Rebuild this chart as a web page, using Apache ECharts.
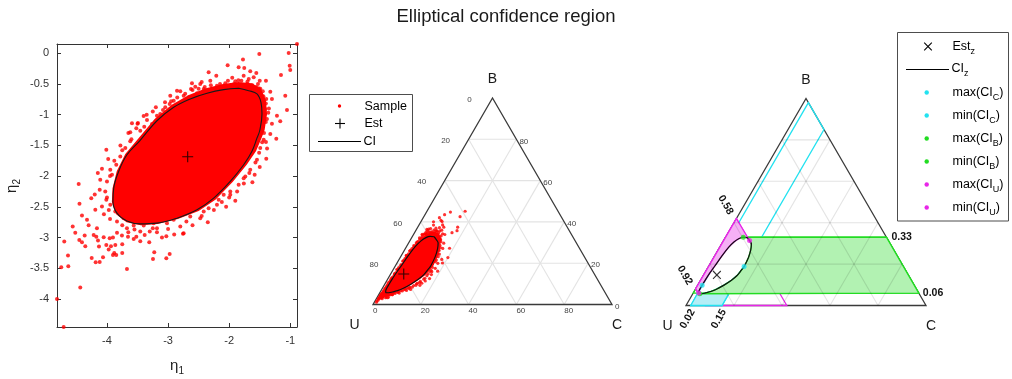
<!DOCTYPE html>
<html>
<head>
<meta charset="utf-8">
<title>Elliptical confidence region</title>
<script src="https://cdn.jsdelivr.net/npm/echarts@6.0.0/dist/echarts.min.js"></script>
<style>
html,body{margin:0;padding:0;background:#fff;}
#chart{width:1012px;height:379px;}
</style>
</head>
<body>
<div id="chart"></div>
<script>
// ---------------- data ----------------
const chartTitle = 'Elliptical confidence region';
const eta1Ticks = [-4, -3, -2, -1];
const eta2Ticks = [0, -0.5, -1, -1.5, -2, -2.5, -3, -3.5, -4];
const eta1Limits = [-4.818, -0.89];
const eta2Limits = [-4.456, 0.15];
const ternTicks = [0, 20, 40, 60, 80];

// point estimate (eta1, eta2)
const estimate = [-2.679, -1.685];

// confidence ellipse outline (eta1, eta2)
const ciOutline = [
  [-1.845,-0.570],[-2.090,-0.593],[-2.363,-0.652],[-2.637,-0.745],[-2.908,-0.880],[-3.182,-1.099],
  [-3.460,-1.421],[-3.673,-1.653],[-3.809,-1.923],[-3.890,-2.196],[-3.902,-2.412],[-3.836,-2.603],
  [-3.673,-2.729],[-3.455,-2.778],[-3.182,-2.766],[-2.854,-2.685],[-2.527,-2.549],[-2.254,-2.359],
  [-1.982,-2.086],[-1.763,-1.816],[-1.627,-1.597],[-1.545,-1.381],[-1.501,-1.262],[-1.463,-0.989],
  [-1.480,-0.799],[-1.545,-0.663],[-1.680,-0.610]
];

// outline of the saturated centre of the sample cloud (eta1, eta2)
const coreOutline = [
  [-1.85,-0.47],[-2.10,-0.50],[-2.38,-0.57],[-2.66,-0.68],[-2.94,-0.84],[-3.22,-1.07],[-3.48,-1.38],
  [-3.70,-1.64],[-3.84,-1.92],[-3.91,-2.20],[-3.92,-2.42],[-3.85,-2.62],[-3.68,-2.75],[-3.45,-2.80],
  [-3.17,-2.78],[-2.84,-2.70],[-2.50,-2.57],[-2.22,-2.38],[-1.94,-2.09],[-1.71,-1.81],[-1.56,-1.59],
  [-1.47,-1.38],[-1.42,-1.25],[-1.38,-0.99],[-1.40,-0.76],[-1.48,-0.58],[-1.63,-0.49]
];

// scattered sample draws (eta1, eta2)
const sampleFar = [
  [-1.026,0.005],[-1.010,-0.202],[-1.000,-0.272],[-1.507,-0.011],[-2.025,-0.196],[-1.774,-0.104],
  [-1.845,-0.228],[-1.753,-0.240],[-1.655,-0.293],[-1.556,-0.321],[-1.763,-0.365],[-1.599,-0.391],
  [-1.398,-0.447],[-1.152,-0.354],[-1.082,-0.691],[-1.327,-0.626],[-1.300,-0.745],[-1.393,-0.745],
  [-1.218,-1.017],[-1.054,-0.924],[-1.164,-1.108],[-1.327,-1.315],[-1.529,-0.500],[-1.517,-0.571],
  [-1.900,-0.456],[-1.982,-0.528],[-2.336,-0.310],[-2.211,-0.365],[-2.309,-0.447],[-2.473,-0.500],
  [-2.609,-0.489],[-2.625,-0.582],[-2.417,-0.582],[-2.745,-0.691],[-2.964,-0.691],[-2.974,-0.826],
  [-3.083,-0.924],[-3.182,-1.017],[-3.345,-1.087],[-3.493,-1.136],[-3.591,-1.141],[-3.390,-1.196],
  [-3.455,-1.262],[-3.619,-1.288],
  [-4.011,-1.571],[-4.082,-1.881],[-3.946,-1.897],[-4.463,-2.130],[-4.110,-2.060],[-4.257,-2.359],
  [-4.409,-2.641],[-4.561,-2.820],[-4.327,-2.712],[-4.191,-2.549],[-4.119,-2.223],[-4.011,-2.386],
  [-4.164,-2.848],[-1.393,-1.718],[-1.229,-1.392],[-1.398,-1.446],[-1.583,-1.979],[-1.736,-2.005],
  [-1.982,-2.305],[-2.090,-2.305],[-2.172,-2.386],[-2.336,-2.522],[-2.473,-2.685],[-2.745,-2.929],
  [-3.018,-2.766],[-3.182,-2.848],
  [-4.699,-3.064],[-4.748,-3.483],[-4.633,-3.467],[-4.638,-3.293],[-4.519,-2.924],[-4.453,-3.038],
  [-4.409,-3.076],[-4.355,-3.141],[-4.365,-2.967],[-4.218,-2.957],[-4.175,-2.989],[-4.147,-3.048],
  [-4.131,-3.146],[-4.250,-3.332],[-4.185,-3.402],[-4.119,-3.397],[-4.065,-3.320],[-4.054,-2.994],
  [-4.011,-3.120],[-3.972,-3.195],[-3.956,-3.011],[-3.935,-3.141],[-3.902,-2.999],[-3.864,-3.120],
  [-3.902,-3.283],[-3.848,-3.283],[-3.881,-3.250],[-3.750,-3.108],[-3.750,-3.250],[-3.755,-2.967],
  [-3.656,-2.989],[-3.563,-3.022],[-3.520,-2.989],[-3.455,-3.060],[-3.383,-2.957],[-3.308,-3.076],
  [-3.673,-3.511],[-4.437,-3.814],[-3.247,-3.348],[-3.226,-3.239],[-3.029,-2.978],[-3.029,-3.337],
  [-2.974,-3.267],[-2.756,-2.940],[-4.818,-4.000],[-4.709,-4.456],[-0.890,0.150]
];
const sampleHalo = [
  [-2.908,-0.773],[-2.789,-0.826],[-2.663,-0.717],[-2.527,-0.652],[-2.375,-0.663],[-2.254,-0.609],
  [-2.118,-0.582],[-2.200,-0.528],[-2.064,-0.489],[-1.872,-0.544],[-1.709,-0.500],[-1.627,-0.582],
  [-1.545,-0.663],[-1.435,-0.799],[-1.409,-0.908],[-1.382,-1.071],[-1.463,-1.206],[-3.128,-0.989],
  [-3.046,-0.880],[-3.263,-1.152],[-2.854,-0.609],[-2.555,-0.544],
  [-4.000,-2.086],[-3.918,-1.979],[-3.848,-1.816],[-3.782,-1.679],[-3.700,-1.544],[-3.619,-1.434],
  [-4.028,-2.249],[-3.946,-2.468],[-3.864,-2.575],[-3.727,-2.685],[-3.563,-2.804],[-3.399,-2.804],
  [-3.236,-2.766],[-2.908,-2.712],[-2.637,-2.657],[-2.417,-2.575],[-2.200,-2.468],[-1.982,-2.249],
  [-1.845,-2.142],[-1.763,-2.033],[-1.655,-1.897],[-1.545,-1.734],[-1.491,-1.544],[-1.435,-1.408],
  [-3.673,-2.848],[-3.455,-2.901],[-3.836,-2.738],[-4.082,-2.494],[-3.836,-2.924],[-3.651,-2.913],
  [-3.182,-2.913],
  [-3.40,-1.02],[-3.25,-0.95],[-3.52,-1.22],[-3.60,-1.40],[-3.75,-1.58],[-2.80,-0.62],[-2.45,-0.47],
  [-2.30,-0.52],[-1.95,-0.40],[-1.80,-0.45],[-1.68,-0.42],[-1.50,-0.45],[-1.45,-0.62],[-1.35,-0.90],
  [-1.30,-1.15],[-1.38,-1.55],[-1.50,-1.85],[-1.62,-2.10],[-1.90,-2.40],[-2.05,-2.50],[-2.35,-2.75],
  [-2.60,-2.80],[-2.90,-2.95],[-3.10,-3.00],[-3.30,-2.90],[-4.05,-2.62],[-4.20,-2.30],[-4.15,-1.95],
  [-3.98,-1.72],[-4.30,-2.80],[-4.45,-2.45],
  [-2.95,-0.78],[-2.85,-0.72],[-2.72,-0.66],[-2.60,-0.60],[-2.50,-0.58],[-2.40,-0.55],[-2.28,-0.58],
  [-2.15,-0.50],[-2.02,-0.45],[-1.92,-0.50],[-1.85,-0.44],[-1.78,-0.52],[-1.70,-0.46],[-1.62,-0.52],
  [-1.56,-0.55],[-1.49,-0.58],[-1.44,-0.70],[-1.40,-0.82],[-1.36,-0.97],[-1.40,-1.12],[-1.43,-1.30],
  [-1.46,-1.45],[-1.51,-1.62],[-1.57,-1.78],[-1.67,-1.95],[-1.76,-2.12],[-1.87,-2.25],[-2.00,-2.35],
  [-2.12,-2.42],[-2.25,-2.55],[-2.45,-2.65],[-2.70,-2.74],[-2.80,-2.82],[-3.00,-2.86],[-3.25,-2.85],
  [-3.55,-2.87],[-3.75,-2.80],[-3.95,-2.70],[-3.97,-2.55],[-4.00,-2.35],[-3.95,-2.00],[-3.88,-1.75],
  [-3.78,-1.50],[-3.65,-1.30],[-3.50,-1.15],[-3.35,-1.00],[-3.20,-0.88],[-3.05,-0.80]
];

// component-wise interval limits of the confidence region
const ciC = [0.02, 0.15];
const ciB = [0.06, 0.33];
const ciU = [0.58, 0.92];

// ---------------- helpers ----------------
const FONT = '"Liberation Sans", Arial, Helvetica, sans-serif';
const RED = '#ff0000';
const EDGE = '#3a3a3a';
const CYAN = '#22e2f0', GREEN = '#22dc22', MAGENTA = '#e826e8';
const CYAN_F = '#b4eef6', GREEN_F = '#b2f2b2', MAGENTA_F = '#f5b0f5';
const SQ3 = Math.sqrt(3) / 2;

// ternary (U,B,C) -> plane; U at origin, C at (1,0), B at apex
const tern = (u, b, c) => { const s = u + b + c; return [(c + b / 2) / s, b * SQ3 / s]; };
// inverse additive log-ratio: eta1 = ln(C/U), eta2 = ln(B/U)
const fromEta = (e) => { const a = Math.exp(e[0]), b = Math.exp(e[1]), d = 1 + a + b; return { u: 1 / d, b: b / d, c: a / d }; };
const compXY = (p) => tern(p.u, p.b, p.c);
const closeRing = (a) => a.concat([a[0]]);

const ring = ciOutline.map(fromEta);
const ringXY = ring.map(compXY);
function extremeIdx(key, sign) {
  let best = 0;
  ring.forEach((p, i) => { if (sign * p[key] > sign * ring[best][key]) best = i; });
  return best;
}
const iMaxC = extremeIdx('c', 1), iMinC = extremeIdx('c', -1);
const iMaxB = extremeIdx('b', 1), iMinB = extremeIdx('b', -1);
const iMaxU = extremeIdx('u', 1), iMinU = extremeIdx('u', -1);
// walk the ellipse from i to j along the side that passes k
function arcVia(i, j, k) {
  const n = ring.length, fwd = []; let hit = false;
  for (let t = i; ; t = (t + 1) % n) { fwd.push(t); if (t === k) hit = true; if (t === j) break; }
  if (hit) return fwd;
  const bwd = [];
  for (let t = i; ; t = (t - 1 + n) % n) { bwd.push(t); if (t === j) break; }
  return bwd;
}

const mctx = document.createElement('canvas').getContext('2d');
function textW(s, size, weight) { mctx.font = (weight || 'normal') + ' ' + size + 'px ' + FONT; return mctx.measureText(s).width; }
// text with subscripts, built from pieces [text, isSub]
function subText(parts, o) {
  const ms = o.size || 12.5, ss = o.subSize || 9, dy = o.subDy || 5;
  let total = 0;
  const ws = parts.map(([t, s]) => { const w = textW(t, s ? ss : ms); total += w; return w; });
  let cx = o.align === 'center' ? -total / 2 : 0;
  const children = parts.map(([t, s], i) => {
    const el = { type: 'text', x: cx, y: s ? dy : 0,
      style: { text: t, fontSize: s ? ss : ms, fontFamily: FONT, fill: o.color || '#000', align: 'left', verticalAlign: 'middle' } };
    cx += ws[i];
    return el;
  });
  return { type: 'group', x: o.x, y: o.y, rotation: o.rotation || 0, silent: true, children };
}
const seg = (a, b, stroke, w) => ({ type: 'line', shape: { x1: a[0], y1: a[1], x2: b[0], y2: b[1] }, style: { stroke, lineWidth: w } });
const poly = (pts, style) => ({ type: 'polygon', shape: { points: pts }, style });
const txt = (x, y, text, st, extra) => Object.assign({ type: 'text', x, y,
  style: Object.assign({ text, fontFamily: FONT, fill: '#222', align: 'center', verticalAlign: 'middle' }, st) }, extra || {});

// grid lines, triangle and vertex names of a ternary panel
function ternBase(api, gridStroke) {
  const P = (u, b, c) => api.coord(tern(u, b, c));
  const grid = [];
  ternTicks.filter(t => t > 0).forEach(t => {
    const k = t / 100;
    grid.push(seg(P(1 - k, k, 0), P(0, k, 1 - k), gridStroke, 1.1));
    grid.push(seg(P(1 - k, 0, k), P(0, 1 - k, k), gridStroke, 1.1));
    grid.push(seg(P(k, 1 - k, 0), P(k, 0, 1 - k), gridStroke, 1.1));
  });
  const edges = poly([P(1, 0, 0), P(0, 0, 1), P(0, 1, 0)], { fill: 'none', stroke: EDGE, lineWidth: 1.3 });
  const U = P(1, 0, 0), B = P(0, 1, 0), C = P(0, 0, 1);
  const names = [
    txt(U[0] - 18.5, U[1] + 21, 'U', { fontSize: 14, fill: '#1a1a1a' }),
    txt(B[0], B[1] - 18.5, 'B', { fontSize: 14, fill: '#1a1a1a' }),
    txt(C[0] + 5, C[1] + 21, 'C', { fontSize: 14, fill: '#1a1a1a' })
  ];
  return { P, grid, edges, names };
}

// ---------------- chart ----------------
const chart = echarts.init(document.getElementById('chart'), null, { renderer: 'canvas' });

const axisCommon = (pos, ticks, showLabel) => ({
  position: pos, type: 'value',
  axisLine: { show: true, onZero: false, lineStyle: { color: '#333', width: 1 } },
  axisTick: { show: true, inside: true, length: 4, customValues: ticks, lineStyle: { color: '#333', width: 1 } },
  axisLabel: { show: showLabel, customValues: ticks, fontSize: 11, color: '#333', fontFamily: FONT, margin: 8 },
  splitLine: { show: false }
});
const hiddenAxis = (gi, max) => ({ gridIndex: gi, type: 'value', min: 0, max, show: false });

const estTern = fromEta(estimate);
const PLUS = 'path://M4.5,0H5.5V10H4.5Z M0,4.5H10V5.5H0Z';
const allSample = sampleFar.concat(sampleHalo);

const option = {
  animation: false,
  backgroundColor: '#fff',
  title: { text: chartTitle, left: 'center', top: 7, padding: 0,
    textStyle: { fontSize: 18.5, fontWeight: 'normal', color: '#1a1a1a', fontFamily: FONT } },
  grid: [
    { left: 57, top: 44, width: 240, height: 283, outerBoundsMode: 'none' },
    { left: 373, top: 98, width: 239, height: 206.5, outerBoundsMode: 'none' },
    { left: 686, top: 98.5, width: 240, height: 207, outerBoundsMode: 'none' }
  ],
  xAxis: [
    Object.assign({ gridIndex: 0, min: eta1Limits[0], max: eta1Limits[1] }, axisCommon('bottom', eta1Ticks, true)),
    Object.assign({ gridIndex: 0, min: eta1Limits[0], max: eta1Limits[1] }, axisCommon('top', eta1Ticks, false)),
    hiddenAxis(1, 1),
    hiddenAxis(2, 1)
  ],
  yAxis: [
    Object.assign({ gridIndex: 0, min: eta2Limits[0], max: eta2Limits[1] }, axisCommon('left', eta2Ticks, true)),
    Object.assign({ gridIndex: 0, min: eta2Limits[0], max: eta2Limits[1] }, axisCommon('right', eta2Ticks, false)),
    hiddenAxis(1, SQ3),
    hiddenAxis(2, SQ3)
  ],
  series: [
    // ----- left: eta plane -----
    { type: 'custom', xAxisIndex: 0, yAxisIndex: 0, z: 2, silent: true, clip: false, data: [[0, 0]],
      renderItem: (p, api) => poly(coreOutline.map(q => api.coord(q)), { fill: RED }) },
    { type: 'scatter', xAxisIndex: 0, yAxisIndex: 0, z: 3, silent: true, clip: false,
      symbolSize: 4, itemStyle: { color: RED }, data: allSample },
    { type: 'line', xAxisIndex: 0, yAxisIndex: 0, z: 4, silent: true, clip: false,
      data: closeRing(ciOutline), smooth: 0.4, symbol: 'none', lineStyle: { color: '#1a1a1a', width: 1.1 } },
    { type: 'scatter', xAxisIndex: 0, yAxisIndex: 0, z: 5, silent: true, clip: false,
      symbol: PLUS, symbolSize: 11, itemStyle: { color: '#000' }, data: [estimate] },

    // ----- middle: sample on the simplex -----
    { type: 'custom', xAxisIndex: 2, yAxisIndex: 2, z: 1, silent: true, clip: false, data: [[0, 0]],
      renderItem: (p, api) => {
        const b = ternBase(api, '#e3e3e3');
        const P = b.P, labels = [];
        ternTicks.forEach(t => {
          const k = t / 100;
          const l = P(k, 1 - k, 0), r = P(0, k, 1 - k), d = P(1 - k, 0, k);
          labels.push(txt(l[0] - 23, l[1] + 1.5, String(t), { fontSize: 8, fill: '#444' }));
          labels.push(txt(r[0] + 3, r[1] + 2, String(t), { fontSize: 8, fill: '#444', align: 'left' }));
          labels.push(txt(d[0], d[1] + 6.5, String(t), { fontSize: 8, fill: '#444', align: 'left' }));
        });
        return { type: 'group', children: b.grid.concat([b.edges], labels, b.names) };
      } },
    { type: 'custom', xAxisIndex: 2, yAxisIndex: 2, z: 2, silent: true, clip: false, data: [[0, 0]],
      renderItem: (p, api) => poly(coreOutline.map(q => api.coord(compXY(fromEta(q)))), { fill: RED }) },
    { type: 'scatter', xAxisIndex: 2, yAxisIndex: 2, z: 3, silent: true, clip: false,
      symbolSize: 3.2, itemStyle: { color: RED }, data: allSample.map(q => compXY(fromEta(q))) },
    { type: 'line', xAxisIndex: 2, yAxisIndex: 2, z: 4, silent: true, clip: false,
      data: closeRing(ringXY), smooth: 0.4, symbol: 'none', lineStyle: { color: '#111', width: 1.2 } },
    { type: 'scatter', xAxisIndex: 2, yAxisIndex: 2, z: 5, silent: true, clip: false,
      symbol: PLUS, symbolSize: 11, itemStyle: { color: '#000' }, data: [compXY(estTern)] },

    // ----- right: component intervals on the simplex -----
    { type: 'custom', xAxisIndex: 3, yAxisIndex: 3, z: 1, silent: true, clip: false, data: [[0, 0]],
      renderItem: (p, api) => {
        const b = ternBase(api, 'rgba(0,0,0,0.11)');
        const P = b.P;
        const R = (i) => api.coord(ringXY[i]);
        const outlines = [
          poly([P(1 - ciB[0], ciB[0], 0), P(0, ciB[0], 1 - ciB[0]), P(0, ciB[1], 1 - ciB[1]), P(1 - ciB[1], ciB[1], 0)],
            { fill: 'none', stroke: GREEN, lineWidth: 1.3 }),
          poly([P(ciU[1], 1 - ciU[1], 0), P(ciU[0], 1 - ciU[0], 0), P(ciU[0], 0, 1 - ciU[0]), P(ciU[1], 0, 1 - ciU[1])],
            { fill: 'none', stroke: MAGENTA, lineWidth: 1.3 }),
          poly([P(1 - ciC[0], 0, ciC[0]), P(0, 1 - ciC[0], ciC[0]), P(0, 1 - ciC[1], ciC[1]), P(1 - ciC[1], 0, ciC[1])],
            { fill: 'none', stroke: CYAN, lineWidth: 1.3 })
        ];
        const fills = [
          poly([P(1 - ciC[0], 0, ciC[0])].concat(arcVia(iMinC, iMaxC, iMinB).map(R), [P(1 - ciC[1], 0, ciC[1])]),
            { fill: CYAN_F, stroke: CYAN, lineWidth: 1.3 }),
          poly([P(0, ciB[1], 1 - ciB[1]), P(0, ciB[0], 1 - ciB[0])].concat(arcVia(iMinB, iMaxB, iMaxC).map(R)),
            { fill: GREEN_F, stroke: GREEN, lineWidth: 1.3 }),
          poly([P(ciU[0], 1 - ciU[0], 0)].concat(arcVia(iMinU, iMaxU, iMinC).map(R), [P(ciU[1], 1 - ciU[1], 0)]),
            { fill: MAGENTA_F, stroke: MAGENTA, lineWidth: 1.3 })
        ];
        const bold = { fontSize: 10.5, fontWeight: 'bold', fill: '#111' };
        const labels = [];
        ciB.forEach((v, i) => {
          const q = P(0, v, 1 - v);
          labels.push(txt(q[0] + 4 + i, q[1], v.toFixed(2), Object.assign({ align: 'left' }, bold)));
        });
        ciU.forEach(v => {
          const q = P(v, 1 - v, 0);
          labels.push(txt(q[0] - 7 * 0.5 - 2.5 * 0.866, q[1] - 7 * 0.866 + 2.5 * 0.5, v.toFixed(2),
            Object.assign({ align: 'right' }, bold), { rotation: -Math.PI / 3 }));
        });
        ciC.forEach(v => {
          const q = P(1 - v, 0, v);
          labels.push(txt(q[0] - 3 * 0.5 + 4 * 0.866, q[1] + 3 * 0.866 + 4 * 0.5, v.toFixed(2),
            Object.assign({ align: 'right' }, bold), { rotation: Math.PI / 3 }));
        });
        return { type: 'group', children: [b.edges].concat(outlines, fills, b.grid, b.names, labels) };
      } },
    { type: 'line', xAxisIndex: 3, yAxisIndex: 3, z: 4, silent: true, clip: false,
      data: closeRing(ringXY), smooth: 0.4, symbol: 'none', lineStyle: { color: '#111', width: 1.2 } },
    { type: 'scatter', xAxisIndex: 3, yAxisIndex: 3, z: 5, silent: true, clip: false, symbolSize: 5,
      data: [
        { value: ringXY[iMaxC], itemStyle: { color: CYAN } },
        { value: ringXY[iMinC], itemStyle: { color: CYAN } },
        { value: ringXY[iMaxB], itemStyle: { color: GREEN } },
        { value: ringXY[iMinB], itemStyle: { color: GREEN } },
        { value: ringXY[iMaxU], itemStyle: { color: MAGENTA } },
        { value: ringXY[iMinU], itemStyle: { color: MAGENTA } }
      ] },
    { type: 'scatter', xAxisIndex: 3, yAxisIndex: 3, z: 6, silent: true, clip: false,
      symbol: PLUS, symbolRotate: 45, symbolSize: 11, itemStyle: { color: '#000' }, data: [compXY(estTern)] }
  ],
  graphic: [
    // axis names of the eta plane
    subText([['η', false], ['1', true]], { x: 177, y: 366, size: 15, subSize: 10, subDy: 5, align: 'center', color: '#222' }),
    subText([['η', false], ['2', true]], { x: 12, y: 186, size: 15, subSize: 10, subDy: 5, align: 'center', color: '#222', rotation: Math.PI / 2 }),
    // legend of the sample panel
    { type: 'group', silent: true, children: [
      { type: 'rect', shape: { x: 309.5, y: 94.5, width: 103, height: 57 }, style: { fill: '#fff', stroke: '#4d4d4d', lineWidth: 1 } },
      { type: 'circle', shape: { cx: 339.5, cy: 106, r: 1.7 }, style: { fill: RED } },
      seg([335, 123.5], [345, 123.5], '#000', 1.1),
      seg([340, 118.5], [340, 128.5], '#000', 1.1),
      seg([318, 141.5], [361, 141.5], '#000', 1.1)
    ] },
    subText([['Sample', false]], { x: 364.5, y: 106.5 }),
    subText([['Est', false]], { x: 364.5, y: 124 }),
    subText([['CI', false]], { x: 363.5, y: 141.5 }),
    // legend of the interval panel
    { type: 'group', silent: true, children: [
      { type: 'rect', shape: { x: 897.5, y: 32.5, width: 111, height: 188.5 }, style: { fill: '#fff', stroke: '#4d4d4d', lineWidth: 1 } },
      seg([924.2, 42.7], [931.8, 50.3], '#000', 1.1),
      seg([924.2, 50.3], [931.8, 42.7], '#000', 1.1),
      seg([906, 69.5], [949, 69.5], '#000', 1.1),
      { type: 'circle', shape: { cx: 926.7, cy: 92.5, r: 2.2 }, style: { fill: CYAN } },
      { type: 'circle', shape: { cx: 926.7, cy: 115.5, r: 2.2 }, style: { fill: CYAN } },
      { type: 'circle', shape: { cx: 926.7, cy: 138.5, r: 2.2 }, style: { fill: GREEN } },
      { type: 'circle', shape: { cx: 926.7, cy: 161.5, r: 2.2 }, style: { fill: GREEN } },
      { type: 'circle', shape: { cx: 926.7, cy: 184.5, r: 2.2 }, style: { fill: MAGENTA } },
      { type: 'circle', shape: { cx: 926.7, cy: 207.5, r: 2.2 }, style: { fill: MAGENTA } }
    ] },
    subText([['Est', false], ['z', true]], { x: 952.5, y: 46.5 }),
    subText([['CI', false], ['z', true]], { x: 951.5, y: 69 }),
    subText([['max(CI', false], ['C', true], [')', false]], { x: 952.5, y: 92.5 }),
    subText([['min(CI', false], ['C', true], [')', false]], { x: 952.5, y: 115.5 }),
    subText([['max(CI', false], ['B', true], [')', false]], { x: 952.5, y: 138.5 }),
    subText([['min(CI', false], ['B', true], [')', false]], { x: 952.5, y: 161.5 }),
    subText([['max(CI', false], ['U', true], [')', false]], { x: 952.5, y: 184.5 }),
    subText([['min(CI', false], ['U', true], [')', false]], { x: 952.5, y: 207.5 })
  ]
};

chart.setOption(option);
</script>
</body>
</html>
